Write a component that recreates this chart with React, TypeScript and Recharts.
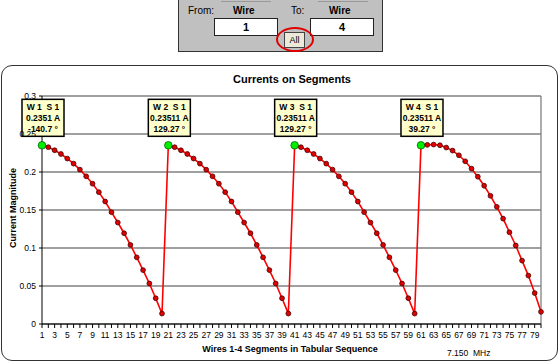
import React from "react";
import { LineChart, Line, XAxis, YAxis, CartesianGrid, ReferenceLine } from "recharts";

// segment currents per wire (A)
const wire1 = [0.2351, 0.2326, 0.2286, 0.2237, 0.2177, 0.211, 0.2031, 0.1943, 0.1846, 0.1735, 0.1612, 0.1471, 0.1335, 0.1194, 0.104, 0.0877, 0.0709, 0.0533, 0.0339, 0.0137];
const wire2 = [0.23511, 0.2326, 0.2286, 0.2237, 0.2177, 0.211, 0.2031, 0.1943, 0.1846, 0.1735, 0.1612, 0.1471, 0.1335, 0.1194, 0.104, 0.0877, 0.0709, 0.0533, 0.0339, 0.0137];
const wire3 = [0.23511, 0.2326, 0.2286, 0.2237, 0.2177, 0.211, 0.2031, 0.1943, 0.1846, 0.1735, 0.1612, 0.1471, 0.1335, 0.1194, 0.104, 0.0877, 0.0709, 0.0533, 0.0339, 0.0137];
const wire4 = [0.23511, 0.2357, 0.2361, 0.2352, 0.2322, 0.2282, 0.222, 0.2141, 0.2044, 0.1938, 0.1819, 0.1687, 0.1542, 0.1386, 0.1207, 0.1033, 0.0834, 0.0637, 0.0407, 0.016];

const wireNames = ["W 1  S 1", "W 2  S 1", "W 3  S 1", "W 4  S 1"];
const ampLabels = ["0.2351 A", "0.23511 A", "0.23511 A", "0.23511 A"];
const phaseLabels = ["-140.7 °", "129.27 °", "129.27 °", "39.27 °"];

const yTicks = [0, 0.05, 0.1, 0.15, 0.2, 0.25, 0.3];
const xTicks = Array.from({ length: 80 }, (_, i) => i + 1);

const wires = [wire1, wire2, wire3, wire4];
const data = wires.flatMap((w, wi) =>
  w.map((v, si) => ({ seg: wi * 20 + si + 1, current: v, wire: wi, s: si + 1 }))
);

const FONT = "'Liberation Sans', Arial, sans-serif";

const SegmentDot = (props: any) => {
  const { cx, cy, payload, index } = props;
  if (cx == null || cy == null) return <g key={`d-${index}`} />;
  if (payload.s === 1) {
    const w = 42;
    const h = 37;
    const x0 = cx - w / 2 + 1;
    const y0 = cy - h - 9;
    return (
      <g key={`d-${index}`}>
        <rect x={x0} y={y0} width={w} height={h} fill="#ffffcc" stroke="#000" strokeWidth={1.5} />
        <text x={x0 + w / 2} y={y0 + 11} textAnchor="middle" fontSize={8.5} fontWeight="bold" fontFamily={FONT} fill="#000" style={{ whiteSpace: "pre" }}>
          {wireNames[payload.wire]}
        </text>
        <text x={x0 + w / 2} y={y0 + 22} textAnchor="middle" fontSize={8.5} fontWeight="bold" fontFamily={FONT} fill="#000">
          {ampLabels[payload.wire]}
        </text>
        <text x={x0 + w / 2} y={y0 + 33} textAnchor="middle" fontSize={8.5} fontWeight="bold" fontFamily={FONT} fill="#000">
          {phaseLabels[payload.wire]}
        </text>
        <circle cx={cx} cy={cy} r={3.8} fill="#00ee00" stroke="#006600" strokeWidth={0.8} />
      </g>
    );
  }
  return <circle key={`d-${index}`} cx={cx} cy={cy} r={2.4} fill="#e00000" stroke="#400000" strokeWidth={0.8} />;
};

function ControlPanel() {
  return (
    <div style={{ position: "absolute", left: 178, top: 0, width: 203, height: 51, background: "#c0c0c0", borderLeft: "1px solid #333", borderRight: "1px solid #333", borderBottom: "1px solid #333", fontFamily: FONT }}>
      <div style={{ position: "absolute", left: 42, top: 1, width: 50, height: 1, background: "#999" }} />
      <div style={{ position: "absolute", left: 139, top: 1, width: 50, height: 1, background: "#999" }} />
      <div style={{ position: "absolute", left: 9, top: 5, fontSize: 10 }}>From:</div>
      <div style={{ position: "absolute", left: 54, top: 5, fontSize: 10, fontWeight: "bold" }}>Wire</div>
      <div style={{ position: "absolute", left: 112, top: 5, fontSize: 10 }}>To:</div>
      <div style={{ position: "absolute", left: 150, top: 5, fontSize: 10, fontWeight: "bold" }}>Wire</div>
      <div style={{ position: "absolute", left: 35, top: 18, width: 62, height: 16, background: "#fff", border: "1px solid #222", textAlign: "center", fontSize: 11, fontWeight: "bold", lineHeight: "16px" }}>1</div>
      <div style={{ position: "absolute", left: 131, top: 18, width: 62, height: 16, background: "#fff", border: "1px solid #222", textAlign: "center", fontSize: 11, fontWeight: "bold", lineHeight: "16px" }}>4</div>
      <div style={{ position: "absolute", left: 105, top: 32, width: 19, height: 14, background: "#ece9d8", border: "1px solid #444", textAlign: "center", fontSize: 9, lineHeight: "14px" }}>All</div>
      <div style={{ position: "absolute", left: 97, top: 27, width: 34, height: 21, border: "2px solid #e00000", borderRadius: "50%" }} />
    </div>
  );
}

export default function App() {
  return (
    <div style={{ position: "absolute", left: 0, top: 0, width: 560, height: 362, background: "#fff", overflow: "hidden", fontFamily: FONT }}>
      <ControlPanel />
      <div style={{ position: "absolute", left: 1, top: 65, width: 555, height: 294, border: "1px solid #333", borderRadius: 11, background: "#fff" }} />
      <div style={{ position: "absolute", left: 0, top: 73, width: 584, textAlign: "center", fontSize: 11, fontWeight: "bold" }}>
        Currents on Segments
      </div>
      <div style={{ position: "absolute", left: 0, top: 344, width: 580, textAlign: "center", fontSize: 9, fontWeight: "bold" }}>
        Wires 1-4 Segments in Tabular Sequence
      </div>
      <div style={{ position: "absolute", left: 447, top: 348, fontSize: 8.5 }}>7.150&nbsp; MHz</div>
      <div style={{ position: "absolute", left: 13, top: 208, transform: "translate(-50%, -50%) rotate(-90deg)", fontSize: 9, fontWeight: "bold", whiteSpace: "nowrap" }}>
        Current Magnitude
      </div>
      <div style={{ position: "absolute", left: 0, top: 0 }}>
        <LineChart width={560} height={362} data={data} margin={{ top: 96, right: 19, left: 12, bottom: 8 }}>
          <CartesianGrid vertical={false} stroke="#808080" strokeWidth={1.3} fill="#fff" />
          <XAxis
            dataKey="seg"
            type="number"
            domain={[1, 80]}
            ticks={xTicks}
            interval={0}
            height={30}
            tickSize={4}
            tickMargin={4}
            tickFormatter={(v: number) => (v % 2 === 1 ? String(v) : "")}
            tick={{ fontSize: 8.5, fill: "#000", fontFamily: FONT }}
            axisLine={{ stroke: "#000" }}
            tickLine={{ stroke: "#000" }}
          />
          <YAxis
            type="number"
            domain={[0, 0.3]}
            ticks={yTicks}
            width={30}
            tickSize={3}
            tickMargin={3}
            tickFormatter={(v: number) => String(v)}
            tick={{ fontSize: 8.5, fill: "#000", fontFamily: FONT }}
            axisLine={{ stroke: "#000" }}
            tickLine={{ stroke: "#000" }}
          />
          <ReferenceLine x={80} stroke="#808080" strokeWidth={1.3} />
          <Line
            type="linear"
            dataKey="current"
            stroke="#ff0000"
            strokeWidth={1.6}
            dot={SegmentDot}
            activeDot={false}
            isAnimationActive={false}
          />
        </LineChart>
      </div>
    </div>
  );
}
